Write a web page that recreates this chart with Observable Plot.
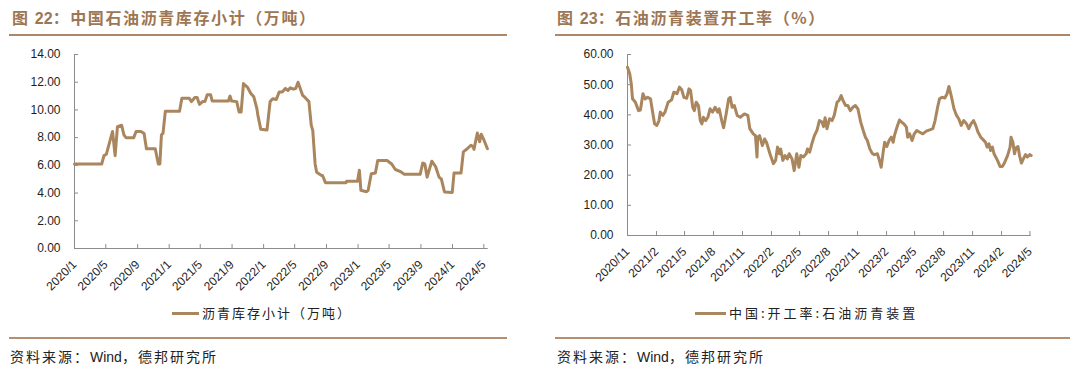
<!DOCTYPE html>
<html><head><meta charset="utf-8">
<script src="https://cdn.jsdelivr.net/npm/d3@7"></script>
<script src="https://cdn.jsdelivr.net/npm/@observablehq/plot@0.6"></script>
<style>
body{margin:0;background:#fff;width:1080px;height:372px;position:relative;overflow:hidden;font-family:"Noto Sans CJK SC",sans-serif;}
.abs{position:absolute;}
.title{font-size:16px;line-height:18px;color:#9d7653;font-weight:bold;letter-spacing:1.6px;white-space:nowrap;}
.title .n{font-family:"Liberation Sans",Arial,sans-serif;letter-spacing:0;}
.rule{height:2px;background:#ad8868;}
.rule2{height:1.5px;background:#b48f70;}
.legend{font-size:13px;line-height:16px;color:#222;display:flex;align-items:center;white-space:nowrap;}
.legend .sw{display:inline-block;height:3px;background:#aa865e;margin-right:3px;}
.src{font-size:14px;line-height:18px;color:#222;letter-spacing:2px;white-space:nowrap;}
.src .w{font-family:"Liberation Sans",Arial,sans-serif;letter-spacing:0;}
</style></head><body>
<div class="abs title" style="left:12px;top:8px">图 <span class="n">22</span>：中国石油沥青库存小计（万吨）</div>
<div class="abs rule" style="left:9px;top:34px;width:498px"></div>
<div class="abs title" style="left:557px;top:8px">图 <span class="n">23</span>：石油沥青装置开工率（%）</div>
<div class="abs rule" style="left:555px;top:34px;width:515px"></div>
<div id="left" class="abs" style="left:0;top:0"></div>
<div id="right" class="abs" style="left:540px;top:0"></div>
<div class="abs legend" style="left:172px;top:305px;letter-spacing:2px"><span class="sw" style="width:27px"></span>沥青库存小计（万吨）</div>
<div class="abs legend" style="left:695px;top:305px;letter-spacing:3px"><span class="sw" style="width:31px"></span>中国:开工率:石油沥青装置</div>
<div class="abs rule2" style="left:9px;top:337px;width:498px"></div>
<div class="abs rule2" style="left:555px;top:337px;width:515px"></div>
<div class="abs src" style="left:10px;top:347px">资料来源：<span class="w">Wind</span>，德邦研究所</div>
<div class="abs src" style="left:557px;top:347px">资料来源：<span class="w">Wind</span>，德邦研究所</div>
<script>
// ---- Chart 22: 中国石油沥青库存小计（万吨）----
const datesA = ["2020-01-01","2020-04-15","2020-04-24","2020-05-03","2020-05-27","2020-06-06","2020-06-15","2020-07-01","2020-07-10","2020-07-18","2020-08-17","2020-08-26","2020-09-14","2020-09-26","2020-10-05","2020-11-08","2020-11-20","2020-11-26","2020-12-02","2020-12-08","2020-12-17","2021-02-10","2021-02-19","2021-03-19","2021-03-28","2021-04-10","2021-04-19","2021-04-28","2021-05-10","2021-05-19","2021-05-28","2021-06-10","2021-06-16","2021-08-18","2021-08-24","2021-08-30","2021-09-19","2021-09-28","2021-10-06","2021-10-15","2021-10-30","2021-11-12","2021-11-24","2021-12-06","2021-12-09","2021-12-21","2022-01-14","2022-01-26","2022-02-05","2022-02-19","2022-03-02","2022-03-14","2022-03-26","2022-04-05","2022-04-14","2022-04-26","2022-05-05","2022-05-14","2022-06-01","2022-06-10","2022-06-25","2022-07-04","2022-07-10","2022-07-19","2022-07-25","2022-08-10","2022-08-17","2022-08-28","2022-11-15","2022-11-18","2022-12-30","2023-01-06","2023-01-12","2023-02-03","2023-02-09","2023-02-21","2023-03-09","2023-03-18","2023-04-23","2023-05-11","2023-05-25","2023-06-14","2023-06-29","2023-08-29","2023-09-08","2023-09-16","2023-09-25","2023-10-13","2023-10-28","2023-11-10","2023-11-19","2023-12-01","2023-12-31","2024-01-07","2024-02-03","2024-02-12","2024-02-27","2024-03-12","2024-03-21","2024-03-24","2024-04-06","2024-04-15","2024-04-21","2024-04-30","2024-05-15"];
const valuesA = [6.1,6.1,6.7,6.8,8.45,6.7,8.8,8.9,8.2,8.0,8.0,8.45,8.45,8.3,7.2,7.2,6.1,6.1,8.2,8.3,9.9,9.9,10.85,10.85,10.6,10.9,10.9,10.4,10.6,10.6,11.1,11.1,10.65,10.65,11.0,10.65,10.6,9.85,9.85,11.9,11.65,11.2,10.95,10.1,9.7,8.6,8.55,10.6,10.8,10.75,11.3,11.3,11.55,11.4,11.6,11.5,11.55,12.0,11.05,10.9,10.6,8.9,8.5,6.1,5.5,5.3,5.25,4.75,4.75,4.85,4.85,5.65,4.2,4.1,4.2,5.4,5.45,6.35,6.35,6.1,5.7,5.55,5.35,5.35,6.17,6.1,5.15,6.3,5.9,5.15,5.0,4.08,4.05,5.45,5.45,6.97,7.2,7.45,7.35,7.15,8.33,7.7,8.25,7.9,7.2];
const xTickLabelsA = ["2020/1","2020/5","2020/9","2021/1","2021/5","2021/9","2022/1","2022/5","2022/9","2023/1","2023/5","2023/9","2024/1","2024/5"];
const yTicksA = [0,2,4,6,8,10,12,14];
const xRangeA = ["2020-01-01","2024-05-18"];

// ---- Chart 23: 石油沥青装置开工率（%）----
const datesB = ["2020-11-01","2020-11-08","2020-11-13","2020-11-17","2020-11-26","2020-12-06","2020-12-12","2020-12-20","2020-12-27","2021-01-04","2021-01-13","2021-01-18","2021-01-26","2021-02-02","2021-02-09","2021-02-13","2021-02-21","2021-02-28","2021-03-10","2021-03-21","2021-03-28","2021-04-07","2021-04-15","2021-04-22","2021-04-29","2021-05-08","2021-05-15","2021-05-20","2021-05-27","2021-06-01","2021-06-07","2021-06-14","2021-06-20","2021-06-25","2021-06-30","2021-07-07","2021-07-14","2021-07-21","2021-07-29","2021-08-06","2021-08-14","2021-08-19","2021-08-27","2021-09-02","2021-09-10","2021-09-18","2021-09-23","2021-09-29","2021-10-06","2021-10-15","2021-10-25","2021-11-07","2021-11-18","2021-11-24","2021-12-05","2021-12-12","2021-12-17","2021-12-19","2021-12-25","2022-01-03","2022-01-10","2022-01-16","2022-01-27","2022-02-07","2022-02-14","2022-02-20","2022-02-26","2022-03-02","2022-03-09","2022-03-16","2022-03-23","2022-03-29","2022-04-07","2022-04-14","2022-04-22","2022-04-29","2022-05-05","2022-05-13","2022-05-22","2022-05-26","2022-06-02","2022-06-09","2022-06-17","2022-06-25","2022-07-03","2022-07-11","2022-07-16","2022-07-21","2022-07-27","2022-08-04","2022-08-12","2022-08-19","2022-08-28","2022-09-03","2022-09-10","2022-09-16","2022-09-24","2022-10-01","2022-10-09","2022-10-17","2022-10-25","2022-11-02","2022-11-11","2022-11-19","2022-11-26","2022-12-02","2022-12-10","2022-12-17","2022-12-24","2023-01-03","2023-01-08","2023-01-15","2023-01-22","2023-01-26","2023-02-02","2023-02-09","2023-02-16","2023-02-22","2023-02-26","2023-03-06","2023-03-14","2023-03-21","2023-03-28","2023-04-05","2023-04-09","2023-04-15","2023-04-23","2023-04-30","2023-05-08","2023-05-16","2023-05-27","2023-06-07","2023-06-18","2023-06-28","2023-07-05","2023-07-13","2023-07-19","2023-07-27","2023-08-05","2023-08-12","2023-08-18","2023-08-25","2023-09-03","2023-09-11","2023-09-18","2023-09-26","2023-10-04","2023-10-13","2023-10-20","2023-10-27","2023-11-04","2023-11-11","2023-11-18","2023-11-27","2023-12-05","2023-12-12","2023-12-17","2023-12-23","2023-12-28","2024-01-03","2024-01-08","2024-01-19","2024-01-27","2024-02-04","2024-02-11","2024-02-20","2024-02-28","2024-03-02","2024-03-08","2024-03-13","2024-03-18","2024-03-24","2024-03-29","2024-04-04","2024-04-10","2024-04-17","2024-04-23","2024-04-30","2024-05-05"];
const valuesB = [55.8,53.6,50.3,45.3,44.2,41.4,41.6,47.0,45.3,45.8,45.3,42.0,37.0,36.5,38.1,40.9,39.8,40.9,44.2,45.0,47.5,47.0,49.2,48.3,45.8,45.5,48.6,48.1,42.5,41.4,44.2,43.1,38.1,37.0,39.2,38.1,39.2,42.0,40.9,42.5,40.9,42.0,38.1,35.7,40.3,45.3,45.8,42.5,43.1,39.8,39.2,40.3,39.8,35.4,33.7,33.1,26.0,32.6,33.1,29.8,32.0,30.9,27.1,23.8,24.9,29.3,27.1,28.7,24.9,26.5,25.4,27.1,25.4,21.5,27.1,22.6,26.5,26.0,27.1,28.7,27.6,30.4,33.1,34.8,38.1,37.6,36.1,39.0,35.4,38.7,38.1,39.8,44.2,44.7,46.4,44.7,43.1,43.1,41.4,42.5,43.1,42.0,37.6,34.8,32.6,31.5,28.7,27.3,26.8,27.1,25.4,22.6,28.2,30.9,29.5,31.5,32.6,30.9,33.1,35.9,38.3,37.6,37.0,35.9,32.6,33.7,31.5,33.7,34.8,34.3,33.7,34.6,35.0,35.4,38.1,42.5,45.3,45.8,45.6,47.0,49.4,46.4,42.0,39.8,38.7,36.5,38.1,37.0,35.4,37.0,38.1,36.5,34.3,32.6,31.7,30.9,29.3,30.4,28.2,29.3,27.1,24.9,22.9,22.9,24.3,26.5,29.3,32.6,30.9,27.1,29.1,29.5,26.5,24.0,25.4,26.8,26.0,26.8,26.5];
const xTickLabelsB = ["2020/11","2021/2","2021/5","2021/8","2021/11","2022/2","2022/5","2022/8","2022/11","2023/2","2023/5","2023/8","2023/11","2024/2","2024/5"];
const yTicksB = [0,10,20,30,40,50,60];
const xRangeB = ["2020-11-01","2024-05-05"];

const parseDay = d3.utcParse("%Y-%m-%d");
const parseTick = d3.utcParse("%Y/%m");
const fmtTick = d => `${d.getUTCFullYear()}/${d.getUTCMonth() + 1}`;
const LINE = "#aa865e", AXIS = "#8c8c8c", TEXT = "#1e1e1e";

function panel({dates, values, tickLabels, yTicks, xRange, marginLeft, marginRight, marginBottom}) {
  const data = dates.map((d, i) => ({date: parseDay(d), value: values[i]}));
  const xTicks = tickLabels.map(parseTick);
  const x0 = parseDay(xRange[0]);
  return Plot.plot({
    width: 510, height: 300,
    marginLeft, marginRight, marginTop: 54, marginBottom,
    style: {fontFamily: "'Liberation Sans', Arial, sans-serif", fontSize: "12px", color: TEXT, background: "transparent", overflow: "visible"},
    x: {type: "utc", domain: xRange.map(parseDay), label: null},
    y: {domain: [yTicks[0], yTicks[yTicks.length - 1]], label: null},
    marks: [
      Plot.axisY({ticks: yTicks, tickFormat: d => d.toFixed(2), tickSize: -4, tickPadding: 18, stroke: AXIS, fill: TEXT, fontSize: 12, label: null}),
      Plot.axisX({ticks: xTicks, tickFormat: fmtTick, tickRotate: -45, tickSize: -4, tickPadding: 18, stroke: AXIS, fill: TEXT, fontSize: 12, label: null}),
      Plot.ruleX([x0], {stroke: AXIS}),
      Plot.ruleY([yTicks[0]], {stroke: AXIS}),
      Plot.lineY(data, {x: "date", y: "value", stroke: LINE, strokeWidth: 3, strokeLinejoin: "round"})
    ]
  });
}

document.getElementById("left").append(panel({dates: datesA, values: valuesA, tickLabels: xTickLabelsA, yTicks: yTicksA, xRange: xRangeA, marginLeft: 74, marginRight: 22.3, marginBottom: 52}));
document.getElementById("right").append(panel({dates: datesB, values: valuesB, tickLabels: xTickLabelsB, yTicks: yTicksB, xRange: xRangeB, marginLeft: 87, marginRight: 19.3, marginBottom: 65}));
</script>
</body></html>
